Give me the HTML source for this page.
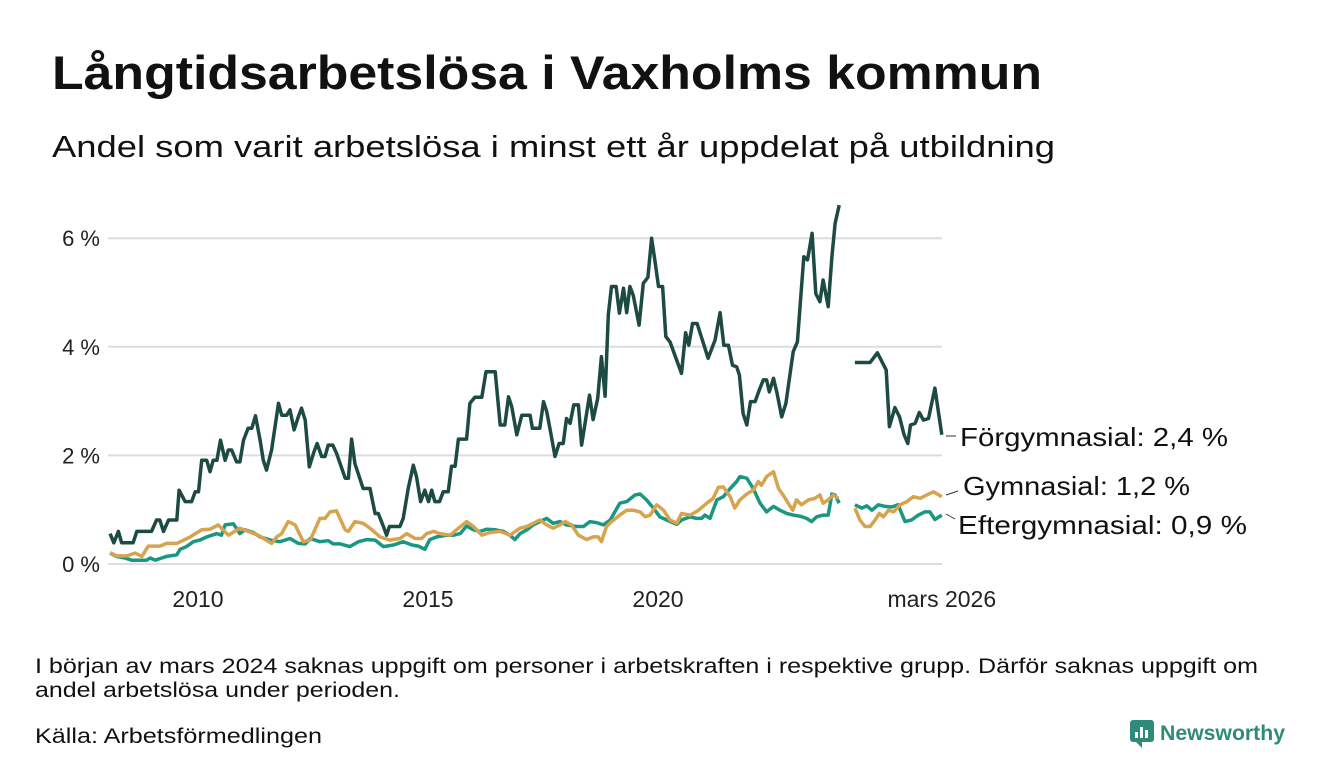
<!DOCTYPE html>
<html><head><meta charset="utf-8"><style>
html,body{margin:0;padding:0;background:#fff;}
svg{display:block;font-family:"Liberation Sans",sans-serif;}
</style></head><body>
<svg width="1340" height="780" viewBox="0 0 1340 780">
<text x="52" y="89" font-size="47" font-weight="bold" fill="#111" textLength="990" lengthAdjust="spacingAndGlyphs">Långtidsarbetslösa i Vaxholms kommun</text>
<text x="52" y="157" font-size="31" fill="#111" textLength="1003" lengthAdjust="spacingAndGlyphs">Andel som varit arbetslösa i minst ett år uppdelat på utbildning</text>
<g id="grid"></g>
<g id="yt"></g>
<g id="xt"></g>
<g id="lines"></g>
<g font-size="26" fill="#111">
<line x1="946" y1="436" x2="956" y2="436" stroke="#333" stroke-width="1"/>
<text x="960" y="446" textLength="268" lengthAdjust="spacingAndGlyphs">Förgymnasial: 2,4 %</text>
<line x1="946" y1="495" x2="958" y2="491" stroke="#333" stroke-width="1"/>
<text x="963" y="495" textLength="227" lengthAdjust="spacingAndGlyphs">Gymnasial: 1,2 %</text>
<line x1="946" y1="514" x2="955" y2="519" stroke="#333" stroke-width="1"/>
<text x="958" y="534" textLength="289" lengthAdjust="spacingAndGlyphs">Eftergymnasial: 0,9 %</text>
</g>
<text x="35" y="673" font-size="21" fill="#111" textLength="1223" lengthAdjust="spacingAndGlyphs">I början av mars 2024 saknas uppgift om personer i arbetskraften i respektive grupp. Därför saknas uppgift om</text>
<text x="35" y="697" font-size="21" fill="#111" textLength="365" lengthAdjust="spacingAndGlyphs">andel arbetslösa under perioden.</text>
<text x="35" y="743" font-size="21" fill="#111" textLength="287" lengthAdjust="spacingAndGlyphs">Källa: Arbetsförmedlingen</text>
<g>
<rect x="1130" y="720" width="24" height="22" rx="3" fill="#2e8b7a"/>
<path d="M1136 742 L1142 748 L1142 742 Z" fill="#2e8b7a"/>
<rect x="1135" y="732" width="3" height="6" fill="#fff"/><rect x="1140" y="727" width="3" height="11" fill="#fff"/><rect x="1145" y="730" width="3" height="8" fill="#fff"/>
<text x="1160" y="740" font-size="21" font-weight="bold" fill="#2e8b7a" textLength="125" lengthAdjust="spacingAndGlyphs">Newsworthy</text>
</g>
</svg>
<script>
const fYears=[2008.09,2008.17,2008.27,2008.34,2008.59,2008.67,2008.99,2009.10,2009.17,2009.25,2009.36,2009.54,2009.59,2009.72,2009.86,2009.94,2010.01,2010.08,2010.19,2010.26,2010.33,2010.41,2010.49,2010.59,2010.66,2010.73,2010.84,2010.91,2010.99,2011.09,2011.17,2011.25,2011.35,2011.42,2011.49,2011.60,2011.75,2011.82,2011.93,2012.00,2012.09,2012.18,2012.25,2012.33,2012.42,2012.51,2012.59,2012.69,2012.76,2012.83,2012.93,2013.01,2013.20,2013.27,2013.34,2013.41,2013.59,2013.74,2013.85,2013.92,2014.03,2014.10,2014.16,2014.39,2014.46,2014.57,2014.68,2014.75,2014.84,2014.93,2015.01,2015.08,2015.15,2015.25,2015.33,2015.44,2015.51,2015.59,2015.66,2015.84,2015.91,2016.02,2016.17,2016.26,2016.46,2016.57,2016.67,2016.75,2016.82,2016.93,2017.04,2017.22,2017.27,2017.43,2017.51,2017.58,2017.65,2017.76,2017.85,2017.94,2018.01,2018.09,2018.17,2018.27,2018.34,2018.51,2018.59,2018.69,2018.77,2018.85,2018.92,2018.99,2019.09,2019.16,2019.25,2019.32,2019.39,2019.46,2019.59,2019.68,2019.78,2019.86,2019.93,2020.01,2020.10,2020.17,2020.26,2020.51,2020.60,2020.67,2020.75,2020.85,2021.09,2021.24,2021.35,2021.43,2021.53,2021.62,2021.71,2021.77,2021.85,2021.93,2022.01,2022.11,2022.20,2022.29,2022.36,2022.42,2022.51,2022.59,2022.69,2022.78,2022.94,2023.03,2023.17,2023.25,2023.35,2023.43,2023.52,2023.59,2023.70,2023.78,2023.85,2023.94,2024.1,2024.28,2024.61,2024.77,2024.96,2025.03,2025.15,2025.25,2025.35,2025.43,2025.49,2025.59,2025.68,2025.77,2025.88,2026.02,2026.17];
const fVals=[0.56,0.39,0.60,0.39,0.39,0.60,0.60,0.81,0.81,0.60,0.81,0.81,1.36,1.15,1.15,1.33,1.33,1.91,1.91,1.70,1.91,1.91,2.28,1.91,2.10,2.10,1.88,1.88,2.28,2.50,2.50,2.73,2.28,1.91,1.73,2.10,2.96,2.74,2.74,2.84,2.47,2.71,2.87,2.65,1.79,2.04,2.22,1.98,1.98,2.19,2.19,2.04,1.58,1.58,2.30,1.85,1.39,1.39,0.93,0.93,0.69,0.53,0.69,0.69,0.84,1.39,1.82,1.61,1.15,1.36,1.15,1.36,1.15,1.15,1.33,1.33,1.80,1.80,2.30,2.30,2.96,3.07,3.07,3.54,3.54,2.56,2.56,3.08,2.90,2.38,2.74,2.74,2.50,2.50,2.99,2.81,2.50,1.98,2.22,2.22,2.68,2.59,2.93,2.93,2.19,3.11,2.66,3.05,3.82,3.09,4.59,5.11,5.11,4.62,5.08,4.63,5.11,4.95,4.40,5.17,5.28,6.00,5.60,5.11,5.11,4.19,4.09,3.51,4.26,4.03,4.43,4.43,3.79,4.12,4.63,4.03,4.03,3.66,3.63,3.48,2.77,2.56,2.99,2.99,3.20,3.39,3.39,3.17,3.42,3.14,2.71,2.96,3.91,4.09,5.66,5.60,6.09,4.98,4.83,5.23,4.74,5.66,6.27,6.61,null,3.71,3.71,3.89,3.57,2.53,2.88,2.71,2.38,2.22,2.56,2.59,2.79,2.65,2.68,3.24,2.38];
const gYears=[2008.09,2008.23,2008.45,2008.63,2008.78,2008.92,2009.17,2009.32,2009.54,2009.83,2010.08,2010.26,2010.44,2010.66,2010.91,2011.09,2011.31,2011.60,2011.71,2011.82,2011.96,2012.11,2012.29,2012.44,2012.65,2012.76,2012.87,2013.01,2013.20,2013.27,2013.41,2013.59,2013.74,2013.96,2014.17,2014.39,2014.54,2014.72,2014.86,2014.97,2015.12,2015.26,2015.48,2015.66,2015.84,2015.99,2016.17,2016.35,2016.57,2016.78,2017.00,2017.15,2017.29,2017.43,2017.58,2017.72,2017.87,2017.98,2018.12,2018.27,2018.45,2018.59,2018.70,2018.77,2018.88,2018.99,2019.17,2019.32,2019.46,2019.61,2019.72,2019.83,2019.97,2020.12,2020.26,2020.41,2020.51,2020.70,2020.88,2021.06,2021.20,2021.31,2021.42,2021.57,2021.67,2021.78,2021.93,2022.07,2022.18,2022.25,2022.36,2022.51,2022.62,2022.72,2022.83,2022.93,2023.01,2023.12,2023.27,2023.41,2023.52,2023.59,2023.70,2023.81,2023.92,2024.1,2024.28,2024.39,2024.50,2024.61,2024.72,2024.81,2024.90,2025.01,2025.12,2025.26,2025.41,2025.55,2025.70,2025.84,2025.99,2026.17];
const gVals=[0.21,0.15,0.15,0.20,0.14,0.33,0.33,0.38,0.38,0.50,0.63,0.64,0.72,0.53,0.66,0.60,0.53,0.38,0.50,0.56,0.78,0.72,0.41,0.44,0.84,0.84,0.96,0.98,0.63,0.60,0.78,0.75,0.66,0.50,0.44,0.47,0.56,0.47,0.47,0.56,0.60,0.56,0.53,0.66,0.78,0.69,0.53,0.58,0.60,0.53,0.66,0.69,0.75,0.81,0.72,0.66,0.72,0.78,0.72,0.53,0.45,0.50,0.50,0.41,0.69,0.78,0.90,0.99,0.99,0.96,0.87,0.90,1.09,0.99,0.81,0.75,0.93,0.90,0.99,1.12,1.21,1.41,1.42,1.24,1.03,1.18,1.29,1.36,1.52,1.45,1.61,1.70,1.39,1.27,1.12,0.99,1.18,1.09,1.18,1.21,1.27,1.12,1.18,1.27,1.21,null,1.03,0.81,0.69,0.69,0.81,0.93,0.87,0.99,0.96,1.09,1.15,1.24,1.21,1.27,1.33,1.24];
const eYears=[2008.09,2008.23,2008.41,2008.56,2008.88,2008.96,2009.07,2009.21,2009.32,2009.54,2009.61,2009.75,2009.90,2010.04,2010.19,2010.41,2010.51,2010.59,2010.77,2010.91,2011.02,2011.20,2011.35,2011.57,2011.78,2012.00,2012.18,2012.33,2012.44,2012.65,2012.83,2012.94,2013.09,2013.30,2013.49,2013.67,2013.85,2014.03,2014.25,2014.46,2014.65,2014.79,2014.93,2015.04,2015.19,2015.41,2015.55,2015.70,2015.84,2015.99,2016.13,2016.28,2016.46,2016.64,2016.78,2016.89,2017.00,2017.15,2017.29,2017.43,2017.58,2017.72,2017.87,2018.01,2018.23,2018.38,2018.52,2018.67,2018.81,2018.96,2019.17,2019.32,2019.50,2019.61,2019.75,2019.90,2020.04,2020.19,2020.41,2020.51,2020.70,2020.84,2020.95,2021.02,2021.13,2021.28,2021.42,2021.57,2021.71,2021.78,2021.93,2022.07,2022.22,2022.36,2022.51,2022.65,2022.80,2022.94,2023.09,2023.23,2023.34,2023.45,2023.59,2023.70,2023.78,2023.85,2023.94,2024.1,2024.28,2024.43,2024.54,2024.65,2024.79,2024.94,2025.08,2025.22,2025.37,2025.51,2025.66,2025.80,2025.91,2026.02,2026.17];
const eVals=[0.20,0.14,0.11,0.07,0.07,0.11,0.07,0.11,0.14,0.17,0.27,0.32,0.41,0.44,0.50,0.56,0.53,0.72,0.74,0.56,0.63,0.58,0.50,0.44,0.41,0.47,0.38,0.37,0.47,0.41,0.43,0.37,0.37,0.32,0.41,0.45,0.44,0.32,0.35,0.41,0.35,0.33,0.27,0.45,0.50,0.53,0.53,0.56,0.70,0.63,0.60,0.64,0.63,0.60,0.53,0.45,0.56,0.63,0.72,0.78,0.84,0.75,0.78,0.72,0.69,0.69,0.78,0.76,0.72,0.81,1.12,1.15,1.27,1.29,1.18,1.03,0.87,0.81,0.73,0.81,0.87,0.84,0.84,0.90,0.84,1.18,1.24,1.39,1.52,1.61,1.58,1.39,1.12,0.96,1.06,0.99,0.93,0.90,0.88,0.84,0.78,0.87,0.90,0.90,1.29,1.27,1.12,null,1.09,1.03,1.07,0.99,1.09,1.06,1.05,1.09,0.78,0.81,0.90,0.96,0.96,0.82,0.90];
const yTicks=[0,2,4,6];
const yTickLabels=["0 %","2 %","4 %","6 %"];
const xTicks=[2010,2015,2020,2026.17];
const xTickLabels=["2010","2015","2020","mars 2026"];

const NS="http://www.w3.org/2000/svg";
const X=y=>198+(y-2010)*46;
const Y=v=>564-v*54.3;
function mk(tag,attrs,parent){const e=document.createElementNS(NS,tag);for(const k in attrs)e.setAttribute(k,attrs[k]);parent.appendChild(e);return e;}
const grid=document.getElementById('grid'),yt=document.getElementById('yt'),xt=document.getElementById('xt'),lines=document.getElementById('lines');
yTicks.forEach((t,i)=>{
  const l=mk('line',{x1:108,x2:942,y1:Y(t),y2:Y(t),stroke:'#dddddd','stroke-width':2},grid);
  
  
  const tx=mk('text',{x:100,y:Y(t)+8,'text-anchor':'end','font-size':22,fill:'#222'},yt);
  tx.textContent=yTickLabels[i];
  
  
});
xTicks.forEach((t,i)=>{
  const tx=mk('text',{x:X(t),y:607,'text-anchor':'middle','font-size':23,fill:'#222'},xt);
  tx.textContent=xTickLabels[i];
  
  
});
function draw(xs,vs,color,name){
  let d='',pen=false;
  for(let i=0;i<xs.length;i++){
    if(vs[i]===null){pen=false;continue;}
    d+=(pen?'L':'M')+X(xs[i]).toFixed(1)+' '+Y(vs[i]).toFixed(1)+' ';pen=true;
  }
  const p=mk('path',{d:d,fill:'none',stroke:color,'stroke-width':3.5,'stroke-linejoin':'round'},lines);
  
  
}
draw(eYears,eVals,'#1a9783','line-eftergymnasial');
draw(gYears,gVals,'#d6a44e','line-gymnasial');
draw(fYears,fVals,'#1e4a44','line-forgymnasial');
</script>
</body></html>
